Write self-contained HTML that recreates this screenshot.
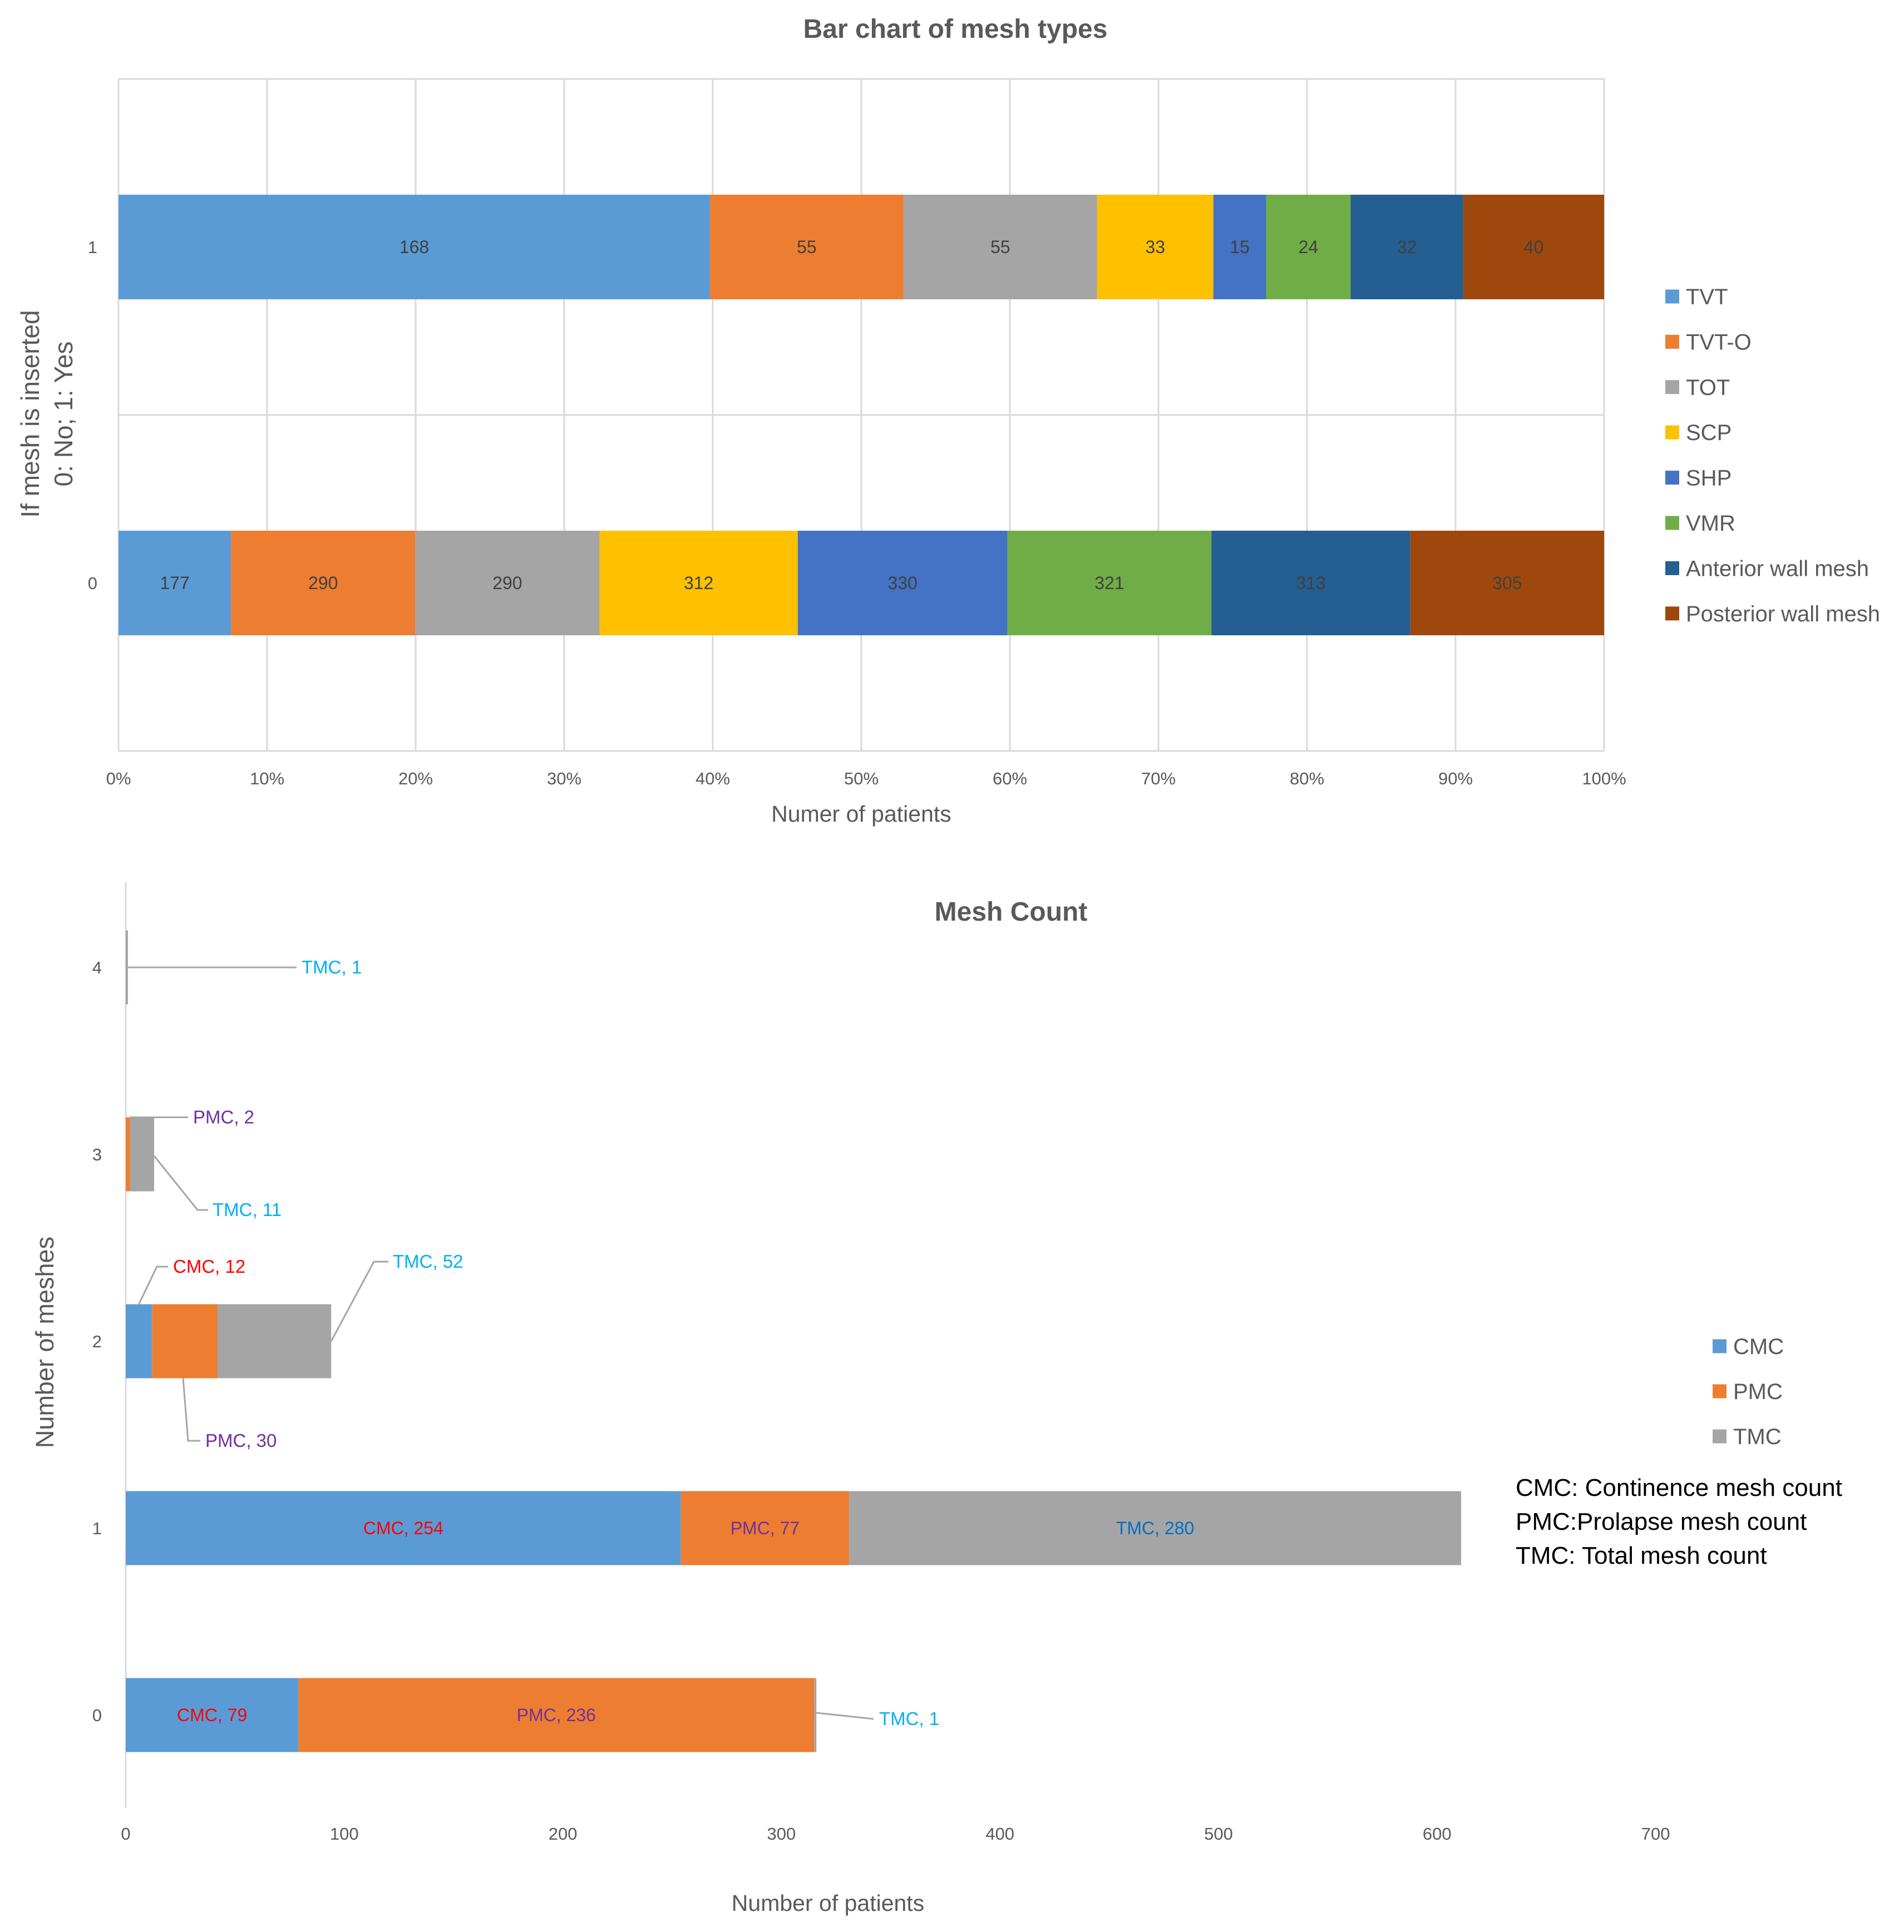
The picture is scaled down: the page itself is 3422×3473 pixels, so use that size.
<!DOCTYPE html>
<html><head><meta charset="utf-8">
<style>
html,body{margin:0;padding:0;background:#fff;}
svg{display:block;font-family:"Liberation Sans",sans-serif;}
</style></head>
<body>
<svg id="svg" width="3422" height="3473" viewBox="0 0 3422 3473" xmlns="http://www.w3.org/2000/svg">
<rect width="3422" height="3473" fill="#fff"/>
<g id="topChart"></g>
<g id="botChart"></g>
</svg>
<script>
// ===== Top chart data =====
const typeNames = ["TVT","TVT-O","TOT","SCP","SHP","VMR","Anterior wall mesh","Posterior wall mesh"];
const typeColors = ["#5B9BD5","#ED7D31","#A5A5A5","#FFC000","#4472C4","#70AD47","#255E91","#9E480E"];
const rowYes = [168,55,55,33,15,24,32,40];
const rowNo = [177,290,290,312,330,321,313,305];
const topCats = ["0","1"];
const pctTicks = ["0%","10%","20%","30%","40%","50%","60%","70%","80%","90%","100%"];

// ===== Bottom chart data =====
const countCats = ["0","1","2","3","4"];
const seriesNames = ["CMC","PMC","TMC"];
const seriesColors = ["#5B9BD5","#ED7D31","#A5A5A5"];
const cmcVals = [79,254,12,0,0];
const pmcVals = [236,77,30,2,0];
const tmcVals = [1,280,52,11,1];
const countTicks = [0,100,200,300,400,500,600,700];

const NS="http://www.w3.org/2000/svg";
function mk(parent,tag,attrs,text){const e=document.createElementNS(NS,tag);for(const k in attrs)e.setAttribute(k,attrs[k]);if(text!==undefined)e.textContent=text;parent.appendChild(e);return e;}

// ---------- TOP ----------
const topG=document.getElementById('topChart');
const L=213,R=2883,T=142,B=1350;
const xp=p=>L+(R-L)*p;
function bandY(i){const h=(B-T)/2;return B-h*(i+0.5);}
let t=mk(topG,'text',{x:1717,y:68,'text-anchor':'middle','font-size':48,'font-weight':'bold',fill:'#595959'},'Bar chart of mesh types');


for(let i=0;i<pctTicks.length;i++){
  const x=xp(i/10);
  const g=mk(topG,'line',{x1:x,y1:T,x2:x,y2:B,stroke:'#d9d9d9','stroke-width':3});
  
  
  const tl=mk(topG,'text',{x:x,y:1410,'text-anchor':'middle','font-size':31,fill:'#595959'},pctTicks[i]);
  
  
}
for(const y of [T,(T+B)/2,B]){
  const g=mk(topG,'line',{x1:L,y1:y,x2:R,y2:y,stroke:'#d9d9d9','stroke-width':3});
  
  
}
const topRows=[rowNo,rowYes];
const barH=188;
topRows.forEach((vals,ri)=>{
  const tot=vals.reduce((a,b)=>a+b,0);
  const cy=bandY(ri);
  let acc=0;
  vals.forEach((v,si)=>{
    const x0=xp(acc/tot),x1=xp((acc+v)/tot);acc+=v;
    const r=mk(topG,'rect',{x:x0,y:cy-barH/2,width:x1-x0,height:barH,fill:typeColors[si]});
    
    
    const lt=mk(topG,'text',{x:(x0+x1)/2,y:cy+11,'text-anchor':'middle','font-size':32,fill:'#404040'},String(v));
    
    
  });
  const yl=mk(topG,'text',{x:175,y:cy+11,'text-anchor':'end','font-size':31,fill:'#595959'},topCats[ri]);
  
  
});
t=mk(topG,'text',{x:1548,y:1477,'text-anchor':'middle','font-size':41,fill:'#595959'},'Numer of patients');


t=mk(topG,'text',{transform:'translate(70,744) rotate(-90)','text-anchor':'middle','font-size':46,fill:'#595959'},'If mesh is inserted');


t=mk(topG,'text',{transform:'translate(130,744) rotate(-90)','text-anchor':'middle','font-size':46,fill:'#595959'},'0: No; 1: Yes');


typeNames.forEach((n,i)=>{
  const y=533+i*81.4;
  const g=mk(topG,'g',{});
  
  
  mk(g,'rect',{x:2993,y:y-12.5,width:25,height:25,fill:typeColors[i]});
  mk(g,'text',{x:3030,y:y+14,'font-size':40,fill:'#595959'},n);
});

// ---------- BOTTOM ----------
const botG=document.getElementById('botChart');
const X0=226,PER=392.8/100;
const xv=v=>X0+v*PER;
const yc=i=>3083-i*336;
const bh=133;
t=mk(botG,'text',{x:1817,y:1655,'text-anchor':'middle','font-size':48,'font-weight':'bold',fill:'#595959'},'Mesh Count');


t=mk(botG,'line',{x1:X0,y1:1586,x2:X0,y2:3250,stroke:'#d9d9d9','stroke-width':3});


countTicks.forEach(v=>{
  const tl=mk(botG,'text',{x:xv(v),y:3307,'text-anchor':'middle','font-size':31,fill:'#595959'},String(v));
  
  
});
const allS=[cmcVals,pmcVals,tmcVals];
const labelColors=["#FF0000","#7030A0","#00B0F0"];
const ends=[];
countCats.forEach((c,ri)=>{
  const cy=yc(ri);let acc=0;ends[ri]=[];
  allS.forEach((arr,si)=>{
    const v=arr[ri];const x0=xv(acc),x1=xv(acc+v);acc+=v;ends[ri][si]=[x0,x1];
    if(v<=0)return;
    const r=mk(botG,'rect',{x:x0,y:cy-bh/2,width:Math.max(x1-x0,2),height:bh,fill:seriesColors[si]});
    
    
  });
  const yl=mk(botG,'text',{x:183,y:cy+11,'text-anchor':'end','font-size':31,fill:'#595959'},c);
  
  
});
function inside(ri,si,color){
  const [a,b]=ends[ri][si];
  const lt=mk(botG,'text',{x:(a+b)/2,y:yc(ri)+11,'text-anchor':'middle','font-size':32,fill:color},seriesNames[si]+', '+allS[si][ri]);
  
  
}
inside(0,0,"#FF0000");inside(0,1,"#7030A0");
inside(1,0,"#FF0000");inside(1,1,"#7030A0");inside(1,2,"#0070C0");
function callout(ri,si,pts,tx,ty){
  const p=mk(botG,'polyline',{points:pts.map(q=>q.join(',')).join(' '),fill:'none',stroke:'#A6A6A6','stroke-width':3});
  
  
  const lt=mk(botG,'text',{x:tx,y:ty+11,'font-size':33,fill:labelColors[si]},seriesNames[si]+', '+allS[si][ri]);
  
  
}
let e;
e=ends[4][2][1]; callout(4,2,[[e,yc(4)],[533,yc(4)]],542,yc(4));
e=ends[3][1][1]; callout(3,1,[[e,yc(3)-bh/2],[338,yc(3)-bh/2]],347,yc(3)-bh/2);
e=ends[3][2][1]; callout(3,2,[[e,yc(3)+3],[355,2175],[374,2175]],382,2175);
e=(ends[2][0][0]+ends[2][0][1])/2; callout(2,0,[[e,yc(2)-bh/2],[282,2277],[302,2277]],311,2277);
e=ends[2][2][1]; callout(2,2,[[e,yc(2)],[672,2268],[698,2268]],706,2268);
e=(ends[2][1][0]+ends[2][1][1])/2; callout(2,1,[[e-3,yc(2)+bh/2],[338,2590],[360,2590]],369,2590);
e=ends[0][2][1]; callout(0,2,[[e,yc(0)-4],[1570,3090]],1580,3090);

t=mk(botG,'text',{x:1488,y:3435,'text-anchor':'middle','font-size':41,fill:'#595959'},'Number of patients');


t=mk(botG,'text',{transform:'translate(96,2413) rotate(-90)','text-anchor':'middle','font-size':45,fill:'#595959'},'Number of meshes');


seriesNames.forEach((n,i)=>{
  const y=2420+i*81;
  const g=mk(botG,'g',{});
  
  
  mk(g,'rect',{x:3078,y:y-12.5,width:25,height:25,fill:seriesColors[i]});
  mk(g,'text',{x:3115,y:y+14,'font-size':40,fill:'#595959'},n);
});
const notes=["CMC: Continence mesh count","PMC:Prolapse mesh count","TMC: Total mesh count"];
notes.forEach((n,i)=>{
  const tx=mk(botG,'text',{x:2724,y:2689+i*61,'font-size':44,fill:'#000'},n);
  
  
});
</script>
</body></html>
